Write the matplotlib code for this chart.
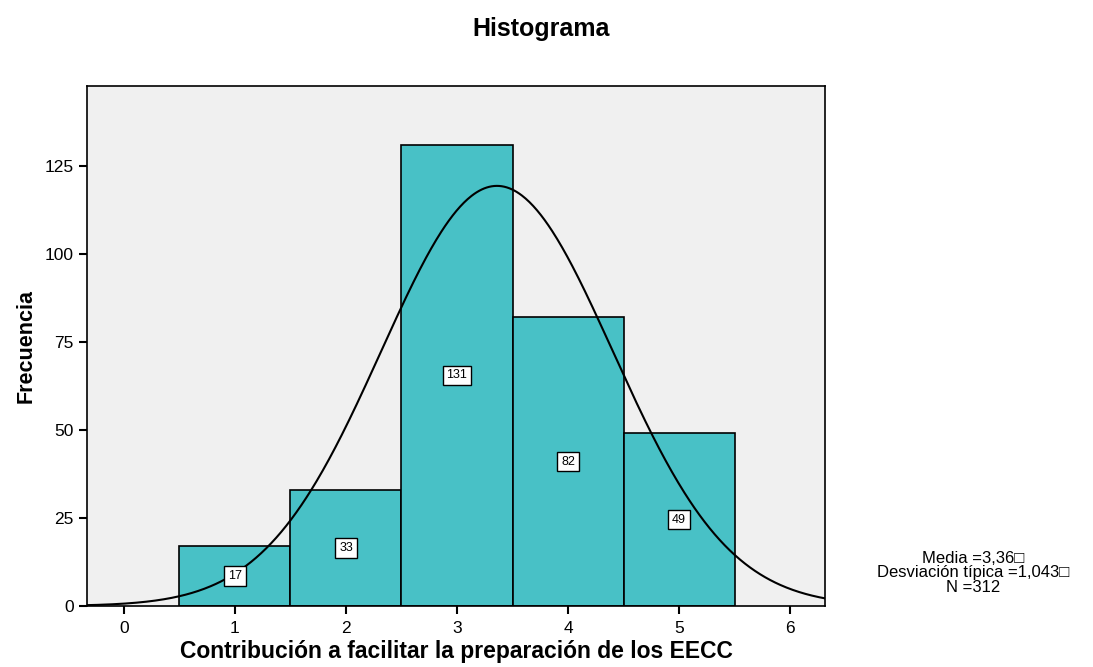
import matplotlib
matplotlib.use("Agg")
import matplotlib.pyplot as plt
import numpy as np

plt.rcParams['font.family'] = ['Liberation Sans', 'DejaVu Sans']

# Data section
valores = [1, 2, 3, 4, 5]
frecuencias = [17, 33, 131, 82, 49]
media = 3.36
desv = 1.043
n_total = 312

fig = plt.figure(figsize=(10.93, 6.67), dpi=100)
ax = fig.add_axes([0.0796, 0.0915, 0.6752, 0.7795])
ax.set_facecolor('#F0F0F0')

ax.bar(valores, frecuencias, width=1.0, color='#48C1C6', edgecolor='black', linewidth=1.2, zorder=2)

# curva normal
xs = np.linspace(-0.4, 6.4, 600)
ys = n_total * 1.0 / (desv * np.sqrt(2 * np.pi)) * np.exp(-0.5 * ((xs - media) / desv) ** 2)
ax.plot(xs, ys, color='black', linewidth=1.5, zorder=3)

for v, f in zip(valores, frecuencias):
    ax.text(v, f / 2, str(f), ha='center', va='center', fontsize=9, zorder=4,
            bbox=dict(boxstyle='square,pad=0.3', facecolor='white', edgecolor='black', linewidth=1))

ax.set_xlim(-0.333, 6.315)
ax.set_ylim(0, 147.7)
ax.set_xticks([0, 1, 2, 3, 4, 5, 6])
ax.set_yticks([0, 25, 50, 75, 100, 125])
ax.tick_params(axis='both', direction='out', length=6, width=1.5, labelsize=12.5, color='black')
ax.tick_params(axis='x', pad=5)
for s in ax.spines.values():
    s.set_linewidth(1.2)

ax.set_xlabel('Contribución a facilitar la preparación de los EECC', fontsize=16.5, fontweight='bold', labelpad=3)
ax.set_ylabel('Frecuencia', fontsize=15.5, fontweight='bold', labelpad=6)
fig.text(0.495, 0.957, 'Histograma', ha='center', va='center', fontsize=18, fontweight='bold')

fig.text(0.89, 0.141, 'Media =3,36\u25a1\nDesviación típica =1,043\u25a1\nN =312',
         ha='center', va='center', fontsize=12, linespacing=0.95)

fig.savefig('out.png', dpi=100)
